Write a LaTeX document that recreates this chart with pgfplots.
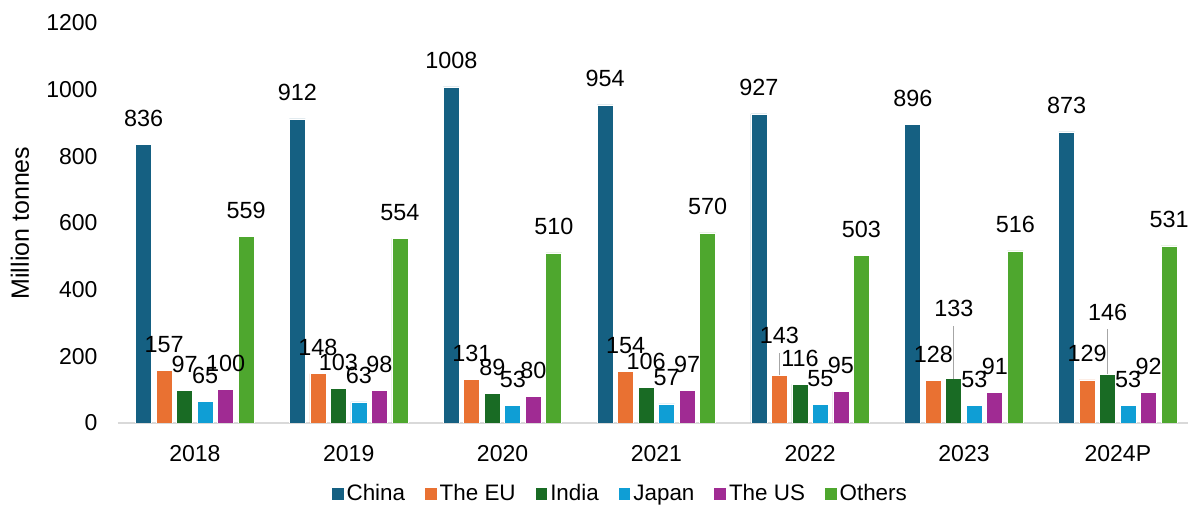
\documentclass[border=0pt]{standalone}
\usepackage{fontspec}
\setmainfont{Liberation Sans}
\usepackage{pgfplots}
\usepackage{pgfplotstable}
\pgfplotsset{compat=1.18}

\definecolor{cChina}{HTML}{156082}
\definecolor{cEU}{HTML}{E97132}
\definecolor{cIndia}{HTML}{196B24}
\definecolor{cJapan}{HTML}{0F9ED5}
\definecolor{cUS}{HTML}{A02B93}
\definecolor{cOthers}{HTML}{4EA72E}

% x: 0=2018 ... 6=2024P
\pgfplotstableread{
x China EU India Japan US Others
0 836 157 97 65 100 559
1 912 148 103 63 98 554
2 1008 131 89 53 80 510
3 954 154 106 57 97 570
4 927 143 116 55 95 503
5 896 128 133 53 91 516
6 873 129 146 53 92 531
}\prod

\begin{document}
\begin{tikzpicture}
\begin{axis}[
    name=ax,
    width=535pt, height=200pt, scale only axis,
    ybar=2.25pt, bar width=8pt,
    xmin=-0.5, xmax=6.456,
    ymin=0, ymax=1200,
    ytick={0,200,...,1200},
    xtick={0,...,6},
    xticklabels={2018,2019,2020,2021,2022,2023,2024P},
    axis lines*=left,
    x axis line style={-, draw=black!15, line width=0.8pt},
    y axis line style={draw=none},
    tick style={draw=none},
    major tick length=0pt,
    /pgf/number format/assume math mode=true,
    /pgf/number format/1000 sep={},
    ticklabel style={font=\fontsize{11.5}{13}\selectfont},
    yticklabel style={xshift=-6.7pt},
    xticklabel style={yshift=-7.7pt},
    ylabel={Million tonnes},
    ylabel style={at={(axis description cs:-0.0916,0.5)}, anchor=center,
        font=\fontsize{12.5}{14}\selectfont},
    nodes near coords,
    nodes near coords align={vertical},
    every node near coord/.append style={anchor=south, inner sep=0pt,
        yshift=8.75pt, text=black, font=\fontsize{11.7}{14}\selectfont},
    legend columns=6,
    legend style={at={(0.470,-0.1775)}, anchor=center, draw=none,
        font=\fontsize{11.2}{13}\selectfont,
        nodes={inner sep=1.5pt},
        /tikz/every even column/.append style={column sep=8.5pt}},
    legend image code/.code={\fill[#1, draw=none] (0pt,-2.9pt) rectangle (5.8pt,2.9pt);},
    every axis plot/.append style={draw=white, line width=0.4pt},
]
\addplot[fill=cChina] table[x=x, y=China] {\prod};
\addplot[fill=cEU, coordinate style/.condition={\coordindex==4}{yshift=7pt}] table[x=x, y=EU] {\prod};
\addplot[fill=cIndia, coordinate style/.condition={\coordindex==5}{yshift=22pt},
    coordinate style/.condition={\coordindex==6}{yshift=18pt}] table[x=x, y=India] {\prod};
\addplot[fill=cJapan] table[x=x, y=Japan] {\prod};
\addplot[fill=cUS] table[x=x, y=US] {\prod};
\addplot[fill=cOthers] table[x=x, y=Others] {\prod};
\legend{China, The EU, India, Japan, The US, Others}

% leader lines for the moved labels
\draw[black!35, line width=0.6pt] ([xshift=-5.125pt]axis cs:5,133) -- ([xshift=-5.125pt]axis cs:5,291);
\draw[black!35, line width=0.6pt] ([xshift=-5.125pt]axis cs:6,146) -- ([xshift=-5.125pt]axis cs:6,282);
\draw[black!35, line width=0.6pt] ([xshift=-15.375pt]axis cs:4,143) -- ([xshift=-15.375pt]axis cs:4,210);
\end{axis}
\pgfresetboundingbox
\path[use as bounding box] ([xshift=-59pt,yshift=-42pt]ax.south west) rectangle ([yshift=11.5pt]ax.north east);
\end{tikzpicture}
\end{document}
